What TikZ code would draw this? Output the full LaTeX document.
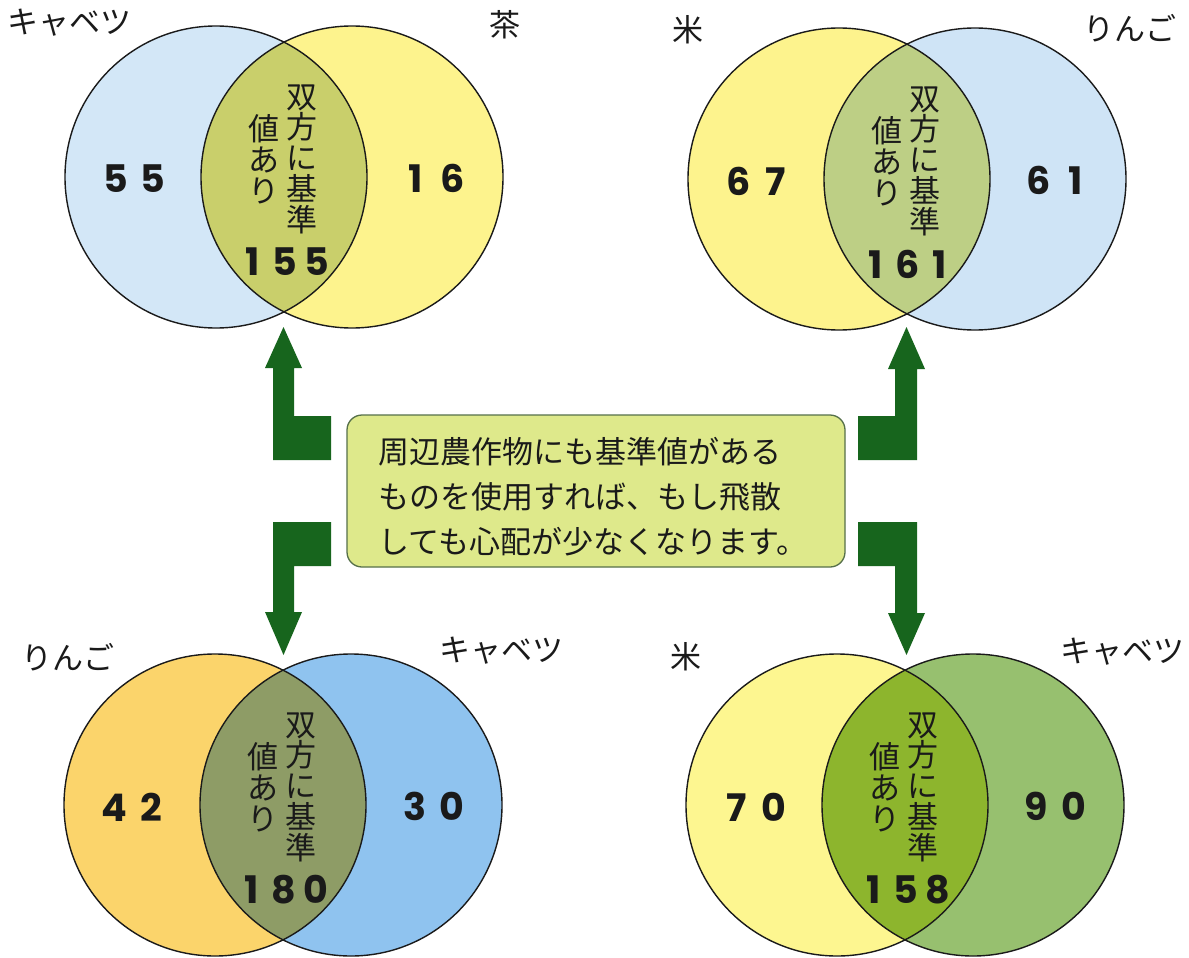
\documentclass[tikz,border=0pt]{standalone}
\usepackage{fontspec}
\newfontfamily\jp{Noto Sans CJK JP}
\newfontfamily\numf{Poppins}
\definecolor{tlL}{HTML}{D3E7F7}
\definecolor{tlR}{HTML}{FDF38D}
\definecolor{tlX}{HTML}{C9CF6B}
\definecolor{trL}{HTML}{FDF38D}
\definecolor{trR}{HTML}{CFE4F6}
\definecolor{trX}{HTML}{BDCF85}
\definecolor{blL}{HTML}{FBD46B}
\definecolor{blR}{HTML}{8FC3EF}
\definecolor{blX}{HTML}{8E9C66}
\definecolor{brL}{HTML}{FDF690}
\definecolor{brR}{HTML}{97C06F}
\definecolor{brX}{HTML}{8DB52D}
\definecolor{boxfill}{HTML}{DEE98B}
\definecolor{boxline}{HTML}{56704A}
\definecolor{arrowgreen}{HTML}{17651D}
\definecolor{ink}{HTML}{1A1A1A}
\newcommand\dgA[1]{\makebox[32pt]{#1}}
\newcommand\dgB[1]{\makebox[37pt]{#1}}
\tikzset{
  vcirc/.style={circle, inner sep=0pt, minimum size=302pt},
  vline/.style={draw=ink, line width=1.4pt},
  colstack/.style={inner sep=0pt, align=center, text=ink, font=\jp\fontsize{31}{30.8}\selectfont},
  numlabel/.style={inner sep=0pt, text=ink, font=\numf\bfseries\fontsize{38}{42}\selectfont},
  setlabel/.style={inner sep=0pt, text=ink, font=\jp\fontsize{31}{37}\selectfont},
  blockarrow/.style={fill=arrowgreen, draw=none},
}
\newcommand\venndiag[9]{%
  \node[vcirc, fill=#3] (#9L) at (#1-68,#2) {};
  \node[vcirc, fill=#4] (#9R) at (#1+68,#2) {};
  \begin{scope}
    \clip (#9L.center) circle[radius=151pt];
    \fill[#5] (#9R.center) circle[radius=151pt];
  \end{scope}
  \draw[vline] (#9L.center) circle[radius=151pt];
  \draw[vline] (#9R.center) circle[radius=151pt];
  \node[colstack] (#9c1) at (#1+18,#2-18) {双\\方\\に\\基\\準};
  \node[colstack] (#9c2) at (#1-20,#2-18) {値\\あ\\り};
  \node[numlabel] (#9n1) at (#1-150,#2+2) {#6};
  \node[numlabel] (#9n2) at (#1+150,#2+1) {#7};
  \node[numlabel] (#9n3) at (#1+1,#2+85) {#8};
}
\begin{document}
\begin{tikzpicture}[x=1pt,y=-1pt]
\useasboundingbox (0,0) rectangle (1189,958);
\fill[white] (0,0) rectangle (1189,958);
% Venn diagrams
\venndiag{284}{177}{tlL}{tlR}{tlX}{\dgB5\dgB5}{\dgB1\dgB6}{\dgA1\dgA5\dgA5}{tl}
\venndiag{907}{179}{trL}{trR}{trX}{\dgB6\dgB7}{\dgB6\dgB1}{\dgA1\dgA6\dgA1}{tr}
\venndiag{283}{805}{blL}{blR}{blX}{\dgB4\dgB2}{\dgB3\dgB0}{\dgA1\dgA8\dgA0}{bl}
\venndiag{905}{805}{brL}{brR}{brX}{\dgB7\dgB0}{\dgB9\dgB0}{\dgA1\dgA5\dgA8}{br}
% set labels
\node[setlabel] (tlLab1) at (69,23) {キャベツ};
\node[setlabel] (tlLab2) at (505,25) {茶};
\node[setlabel] (trLab1) at (688,30) {米};
\node[setlabel] (trLab2) at (1130,28) {りんご};
\node[setlabel] (blLab1) at (68,657) {りんご};
\node[setlabel] (blLab2) at (501,651) {キャベツ};
\node[setlabel] (brLab1) at (686,657) {米};
\node[setlabel] (brLab2) at (1122,652) {キャベツ};
% message box
\node[draw=boxline, line width=1.3pt, fill=boxfill, rounded corners=15pt,
      minimum width=498pt, minimum height=152pt, inner sep=0pt] (msg) at (596,491) {};
\node[inner sep=0pt, align=left, text=ink, font=\jp\fontsize{31}{45}\selectfont]
  (msgtext) at (593,497)
  {周辺農作物にも基準値がある\\ものを使用すれば、もし飛散\\しても心配が少なくなります。};
% block arrows
\fill[blockarrow] (273,460) -- (331,460) -- (331,416) -- (294,416) -- (294,368)
  -- (302,368) -- (283.5,327) -- (265,368) -- (273,368) -- cycle;
\fill[blockarrow] (273,522) -- (331,522) -- (331,566) -- (294,566) -- (294,612)
  -- (302,612) -- (283.5,655) -- (265,612) -- (273,612) -- cycle;
\fill[blockarrow] (917,460) -- (858,460) -- (858,416) -- (895,416) -- (895,369)
  -- (888,369) -- (906.5,327) -- (925,369) -- (917,369) -- cycle;
\fill[blockarrow] (917,522) -- (858,522) -- (858,566) -- (895,566) -- (895,613)
  -- (888,613) -- (906.5,655) -- (925,613) -- (917,613) -- cycle;
\end{tikzpicture}
\end{document}
